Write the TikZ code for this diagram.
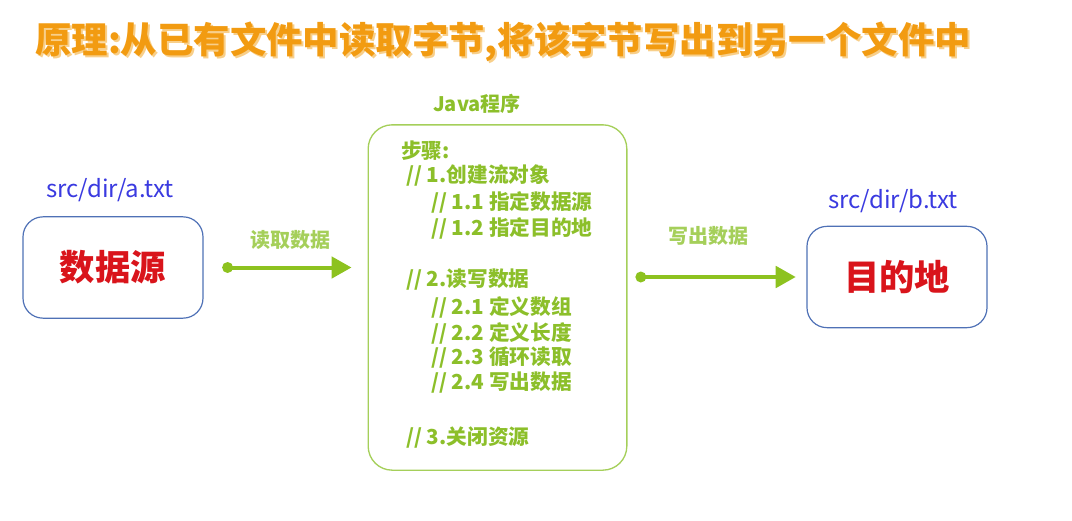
\documentclass[tikz,border=0pt]{standalone}
\usepackage{fontspec}
\setmainfont{Noto Sans CJK SC}
\newfontfamily\cjk{Noto Sans CJK SC}
\usetikzlibrary{arrows.meta}
\definecolor{ttl}{HTML}{F29B11}
\definecolor{ttlsh}{HTML}{F8CF8A}
\definecolor{grn}{HTML}{8DC21F}
\definecolor{grnt}{HTML}{8CBF2A}
\definecolor{grnl}{HTML}{A5CF5A}
\definecolor{bluet}{HTML}{3A3AE0}
\definecolor{blueb}{HTML}{4F71B6}
\definecolor{redt}{HTML}{D9141B}
\tikzset{
  filebox/.style={draw=blueb, line width=0.9pt, rounded corners=15pt, minimum width=135pt, minimum height=76pt, inner sep=0pt},
  filetxt/.style={text=redt, font=\cjk\bfseries\fontsize{26.5}{30}\selectfont},
  pathtxt/.style={text=bluet, font=\cjk\fontsize{18}{21}\selectfont},
  prog/.style={draw=grnl, line width=1pt, rounded corners=18pt, minimum width=194pt, minimum height=259pt, inner sep=0pt},
  steptxt/.style={anchor=west, text=grnt, font=\cjk\bfseries\fontsize{15.5}{18}\selectfont, inner sep=0pt},
  lbl/.style={text=grnl, font=\cjk\bfseries\fontsize{15}{18}\selectfont},
  flow/.style={draw=grn, line width=3pt, {Circle[length=8pt]}-{Triangle[length=15pt,width=16pt]}, shorten <=-4pt}
}
\begin{document}
\begin{tikzpicture}[x=0.75pt,y=-0.75pt]
\useasboundingbox (0,0) rectangle (1072,521);
% title
\node[anchor=west, text=ttlsh, font=\cjk\bfseries\fontsize{27.3}{32}\selectfont, inner sep=0pt] (tsh) at (37,44) {原理:从已有文件中读取字节,将该字节写出到另一个文件中};
\node[anchor=west, text=ttl, font=\cjk\bfseries\fontsize{27.3}{32}\selectfont, inner sep=0pt] (title) at (35,42) {原理:从已有文件中读取字节,将该字节写出到另一个文件中};
% left box
\node[filebox] (a) at (113,267.5) {};
\node[filetxt] (atxt) at (a.center) {数据源};
\node[pathtxt] (apath) at (110,190) {src/dir/a.txt};
% right box
\node[filebox] (b) at (897,277) {};
\node[filetxt] (btxt) at (b.center) {目的地};
\node[pathtxt] (bpath) at (893,201) {src/dir/b.txt};
% program box
\node[prog] (m) at (497.5,297.5) {};
\node[text=grnt, font=\cjk\bfseries\fontsize{15}{18}\selectfont] (mt) at (477,104) {Java程序};
\node[steptxt] (s0) at (401,151) {步骤:};
\node[steptxt] (s1) at (406,176) {// 1.创建流对象};
\node[steptxt] (s11) at (431,202) {// 1.1 指定数据源};
\node[steptxt] (s12) at (431,228) {// 1.2 指定目的地};
\node[steptxt] (s2) at (406,280) {// 2.读写数据};
\node[steptxt] (s21) at (431,307) {// 2.1 定义数组};
\node[steptxt] (s22) at (431,333) {// 2.2 定义长度};
\node[steptxt] (s23) at (431,358) {// 2.3 循环读取};
\node[steptxt] (s24) at (431,383) {// 2.4 写出数据};
\node[steptxt] (s3) at (406,438) {// 3.关闭资源};
% arrows
\coordinate (a1s) at ([xshift=18pt]a.east);
\coordinate (a1e) at ([xshift=-12pt]a.east -| m.west);
\draw[flow] (a1s) -- (a1e);
\node[lbl] (l1) at (290,240) {读取数据};
\coordinate (a2s) at ([xshift=10pt]b.west -| m.east);
\coordinate (a2e) at ([xshift=-8pt]b.west);
\draw[flow] (a2s) -- (a2e);
\node[lbl] (l2) at (708,236) {写出数据};
\end{tikzpicture}
\end{document}
